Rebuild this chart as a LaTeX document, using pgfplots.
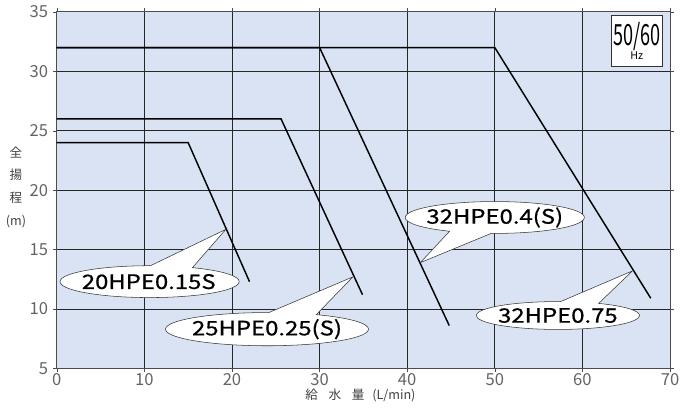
\documentclass[border=0pt]{standalone}
\usepackage{fontspec}
\setmainfont{Noto Sans CJK JP}
\newfontfamily\lblfont{Noto Sans CJK JP}[FakeBold=0.6]
\usepackage{pgfplots}
\pgfplotsset{compat=1.18}
\usetikzlibrary{shapes.callouts}
\definecolor{bgblue}{RGB}{217,227,243}
\definecolor{tickgray}{RGB}{100,100,100}
\newcommand{\lbl}[1]{\scalebox{1.2}[1]{\lblfont\fontsize{15}{15}\selectfont #1}}
\tikzset{bubble/.style={ellipse callout, draw=black!80, fill=white, inner sep=0pt, callout pointer arc=28}}

\begin{document}
\begin{tikzpicture}
\begin{axis}[
  scale only axis, width=462pt, height=268.5pt,
  xmin=0, xmax=70, ymin=5, ymax=35,
  xtick={0,10,...,70}, ytick={5,10,...,35},
  grid=major, major grid style={black!85, line width=0.7pt},
  axis background/.style={fill=bgblue},
  axis line style={black!70, line width=0.8pt},
  tick align=outside, major tick length=3pt, tick style={black!70},
  ticklabel style={font=\fontsize{12.5}{12}\selectfont, text=tickgray},
  xticklabel style={yshift=3pt},
  /pgf/number format/assume math mode=true,
  clip=false,
]
% 20HPE0.15S
\addplot[black, line width=1.1pt] coordinates {(0,24) (15,24) (22,12.3)};
% 25HPE0.25(S)
\addplot[black, line width=1.1pt] coordinates {(0,26) (25.6,26) (34.9,11.2)};
% 32HPE0.4(S)
\addplot[black, line width=1.1pt] coordinates {(0,32) (30,32) (44.8,8.6)};
% 32HPE0.75
\addplot[black, line width=1.1pt] coordinates {(0,32) (50,32) (67.8,10.9)};

\node[bubble, minimum width=135pt, minimum height=24pt,
  callout absolute pointer={(axis cs:19.3,16.7)}] at (axis cs:10.6,12.3) {};
\node at (axis cs:10.5,12.3) {\lbl{20HPE0.15S}};

\node[bubble, minimum width=153pt, minimum height=25pt,
  callout absolute pointer={(axis cs:33.8,12.7)}] at (axis cs:24.0,8.3) {};
\node at (axis cs:24.0,8.3) {\lbl{25HPE0.25(S)}};

\node[bubble, minimum width=135pt, minimum height=24pt,
  callout absolute pointer={(axis cs:41.5,13.9)}] at (axis cs:50.0,17.7) {};
\node at (axis cs:50.0,17.7) {\lbl{32HPE0.4(S)}};

\node[bubble, minimum width=123pt, minimum height=21pt,
  callout absolute pointer={(axis cs:65.7,13.2)}] at (axis cs:57.2,9.45) {};
\node at (axis cs:57.2,9.45) {\lbl{32HPE0.75}};

\node[draw=black!80, fill=white, minimum width=38pt, minimum height=39pt, inner sep=0pt, align=center,
  xshift=-25pt, yshift=-21.75pt] at (rel axis cs:1,1)
  {\scalebox{0.62}[1]{\fontsize{22}{20}\selectfont 50/60}\\[-2pt]{\fontsize{8}{8}\selectfont Hz}};
\end{axis}

\node[align=center, font=\fontsize{9.5}{17}\selectfont, text=black!75, xshift=-30.75pt, yshift=136.5pt]
  at (current axis.south west) {全\\揚\\程\\(m)};
\node[font=\fontsize{9.5}{9}\selectfont, text=black!75, xshift=228.75pt, yshift=-20.25pt]
  at (current axis.south west) {給\hspace{8pt}水\hspace{8pt}量\hspace{6pt}(L/min)};

\pgfresetboundingbox
\path[use as bounding box] ([xshift=-42.75pt, yshift=-30pt]current axis.south west)
  rectangle ([xshift=7.5pt, yshift=9pt]current axis.north east);
\end{tikzpicture}
\end{document}
